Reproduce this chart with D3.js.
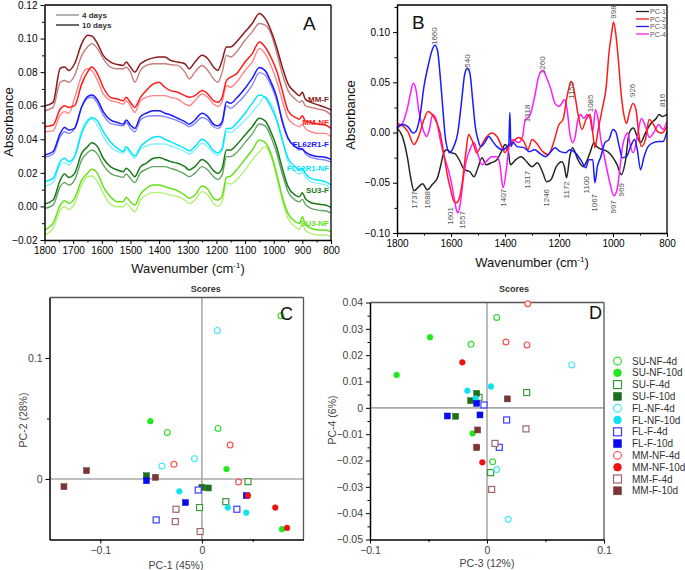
<!DOCTYPE html>
<html><head><meta charset="utf-8">
<script src="https://cdn.jsdelivr.net/npm/d3@7"></script>
<style>
body{margin:0;background:#fff}
svg{display:block}
text{font-family:"Liberation Sans",Arial,Helvetica,sans-serif}
</style></head>
<body><svg id="chart" width="685" height="570"></svg>
<script>
// ---------------- Panel A data ----------------
const wnA = [1800,1770,1745,1730,1715,1695,1670,1650,1635,1615,1595,1570,1545,1525,1515,1500,1485,1465,1445,1420,1400,1380,1360,1335,1310,1295,1275,1250,1230,1210,1195,1180,1165,1150,1130,1100,1075,1050,1030,1010,990,970,950,925,910,900,890,870,845,820,800];
const mmF10 = [0.0598,0.062,0.0823,0.083,0.081,0.085,0.097,0.102,0.1015,0.097,0.090,0.086,0.0845,0.084,0.086,0.083,0.080,0.085,0.087,0.0885,0.089,0.089,0.087,0.086,0.085,0.082,0.086,0.090,0.088,0.083,0.081,0.087,0.095,0.095,0.098,0.104,0.109,0.115,0.112,0.105,0.095,0.083,0.073,0.068,0.066,0.068,0.064,0.062,0.0605,0.059,0.0575];
const mmF4 = [0.057,0.059,0.074,0.075,0.074,0.078,0.090,0.095,0.097,0.094,0.088,0.083,0.082,0.082,0.083,0.080,0.074,0.081,0.084,0.085,0.085,0.085,0.0845,0.084,0.080,0.076,0.080,0.084,0.081,0.076,0.074,0.080,0.090,0.089,0.092,0.099,0.104,0.109,0.108,0.103,0.092,0.079,0.069,0.064,0.062,0.063,0.060,0.059,0.058,0.057,0.0545];
const mmNF10 = [0.0475,0.0485,0.058,0.060,0.059,0.060,0.073,0.080,0.083,0.079,0.071,0.065,0.064,0.063,0.065,0.062,0.059,0.065,0.069,0.073,0.074,0.071,0.069,0.068,0.066,0.065,0.066,0.069,0.067,0.063,0.062,0.065,0.075,0.077,0.079,0.086,0.091,0.098,0.095,0.089,0.081,0.069,0.057,0.053,0.052,0.054,0.051,0.050,0.049,0.0485,0.0465];
const mmNF4 = [0.0445,0.045,0.0545,0.0565,0.0555,0.0645,0.078,0.082,0.081,0.075,0.067,0.063,0.062,0.061,0.063,0.060,0.056,0.063,0.065,0.066,0.066,0.066,0.065,0.064,0.061,0.060,0.063,0.067,0.065,0.061,0.0595,0.0625,0.072,0.071,0.074,0.081,0.086,0.094,0.091,0.084,0.075,0.063,0.0525,0.0485,0.0475,0.049,0.0465,0.0445,0.0435,0.0435,0.0415];
const flF10 = [0.0306,0.0327,0.0435,0.047,0.0455,0.0465,0.0594,0.0654,0.0664,0.0634,0.0565,0.0515,0.050,0.049,0.0515,0.0485,0.0465,0.0535,0.0555,0.057,0.057,0.0555,0.0545,0.0525,0.0505,0.049,0.0515,0.0555,0.0535,0.049,0.048,0.0505,0.0624,0.0614,0.0644,0.0704,0.0763,0.0827,0.0809,0.0743,0.0654,0.0505,0.0405,0.0356,0.0345,0.034,0.0325,0.0306,0.0297,0.0293,0.028];
const flF4 = [0.0293,0.0312,0.0416,0.0445,0.0435,0.0465,0.0594,0.0644,0.065,0.0614,0.0545,0.0495,0.0485,0.048,0.050,0.0465,0.0445,0.0515,0.0535,0.054,0.054,0.0535,0.0525,0.051,0.049,0.0475,0.0495,0.053,0.0515,0.0475,0.0465,0.049,0.060,0.0584,0.061,0.0664,0.0723,0.0797,0.0783,0.0723,0.0634,0.0515,0.041,0.0356,0.0336,0.0346,0.0316,0.0292,0.0282,0.0276,0.0265];
const flNF10 = [0.0148,0.0167,0.0267,0.0287,0.0267,0.0297,0.0436,0.0505,0.053,0.051,0.0445,0.0386,0.0346,0.0327,0.0356,0.0327,0.030,0.0356,0.0386,0.0412,0.0416,0.040,0.0386,0.0366,0.0346,0.0332,0.0356,0.040,0.0376,0.0332,0.032,0.0346,0.0465,0.0465,0.0495,0.0555,0.0614,0.0664,0.065,0.0594,0.0515,0.0396,0.0287,0.0237,0.0217,0.0227,0.0197,0.0167,0.0157,0.0148,0.0128];
const flNF4 = [0.0118,0.0142,0.0247,0.0261,0.0247,0.0297,0.0455,0.0515,0.0519,0.0485,0.0416,0.0356,0.0327,0.0317,0.034,0.0312,0.0287,0.034,0.036,0.0372,0.0372,0.0372,0.036,0.0346,0.0327,0.0312,0.0336,0.0376,0.0356,0.0317,0.0306,0.0332,0.0445,0.044,0.0465,0.0515,0.0559,0.0614,0.0654,0.0614,0.0525,0.0396,0.0267,0.0207,0.0193,0.0207,0.0177,0.0148,0.0138,0.0128,0.0108];
const suF10 = [0.0014,0.0038,0.0157,0.0193,0.0173,0.0197,0.0317,0.0356,0.038,0.0356,0.0287,0.0237,0.0217,0.0207,0.0227,0.0207,0.0177,0.0237,0.0257,0.0287,0.0292,0.028,0.0267,0.0257,0.0237,0.0217,0.0237,0.028,0.0257,0.0213,0.0197,0.0227,0.0336,0.0336,0.0366,0.0426,0.0475,0.0525,0.051,0.0445,0.0356,0.0227,0.0118,0.0068,0.0058,0.0081,0.0048,0.0022,0.0014,0.0008,-0.0006];
const suF4 = [-0.0012,0.0008,0.0118,0.0142,0.0128,0.0157,0.0277,0.032,0.0336,0.0312,0.0247,0.0197,0.0181,0.0173,0.0193,0.0167,0.0142,0.0201,0.0221,0.0237,0.0237,0.0237,0.0227,0.0213,0.0193,0.0177,0.0197,0.0237,0.0217,0.0177,0.0161,0.0187,0.0297,0.0297,0.032,0.038,0.0432,0.0491,0.048,0.0416,0.032,0.0193,0.0088,0.0038,0.0028,0.0042,0.0014,-0.0012,-0.0022,-0.0026,-0.0038];
const suNF10 = [-0.014,-0.010,0.0008,0.0034,0.0018,0.0048,0.0157,0.0197,0.0221,0.0197,0.0118,0.0058,0.0028,0.0028,0.0054,0.0028,0.0008,0.0073,0.0108,0.0128,0.0128,0.0118,0.0108,0.0093,0.0068,0.0048,0.0068,0.0121,0.0102,0.0048,0.0038,0.0062,0.0173,0.0181,0.0217,0.0281,0.0336,0.0396,0.038,0.0316,0.0197,0.0058,-0.0041,-0.0091,-0.0101,-0.0061,-0.0105,-0.013,-0.014,-0.014,-0.015];
const suNF4 = [-0.017,-0.013,-0.0022,-0.0002,-0.0018,0.0018,0.0128,0.0177,0.0181,0.0148,0.0078,0.0014,-0.0002,-0.0002,0.0018,-0.0006,-0.0032,0.0038,0.0068,0.0082,0.0082,0.0078,0.0068,0.0058,0.0038,0.0018,0.0038,0.0088,0.0068,0.0018,0.0002,0.0028,0.0142,0.0134,0.0157,0.0217,0.0277,0.0326,0.0356,0.030,0.0177,0.0038,-0.0071,-0.012,-0.0136,-0.0105,-0.014,-0.016,-0.017,-0.017,-0.018];
const spectraNames = ["MM-F","MM-NF","FL62R1-F","FL62R1-NF","SU3-F","SU3-NF"];
const spectraLabelY = [0.0622,0.0485,0.0354,0.0211,0.0080,-0.0117];

// ---------------- Panel B data ----------------
const pc1Wn = [1800,1780,1760,1750,1737,1720,1705,1688,1670,1650,1640,1625,1615,1600,1585,1570,1550,1530,1515,1500,1485,1470,1450,1430,1410,1400,1390,1380,1360,1340,1320,1300,1280,1260,1246,1230,1210,1190,1180,1172,1160,1150,1130,1110,1100,1085,1070,1060,1040,1020,1000,985,969,955,940,925,910,898,880,860,840,830,816,800];
const pc1Val = [0.0045,-0.004,-0.027,-0.044,-0.058,-0.054,-0.051,-0.057,-0.052,-0.045,-0.035,-0.019,-0.017,-0.020,-0.021,-0.027,-0.037,-0.039,-0.044,-0.035,-0.025,-0.032,-0.030,-0.027,-0.017,-0.012,-0.015,-0.032,-0.027,-0.024,-0.029,-0.034,-0.030,-0.040,-0.049,-0.047,-0.034,-0.029,-0.034,-0.045,-0.024,-0.015,-0.027,-0.034,-0.030,-0.020,-0.010,-0.014,-0.017,-0.019,-0.025,-0.032,-0.042,-0.030,-0.0005,0.0045,-0.004,-0.010,-0.0005,0.009,0.014,0.018,0.016,0.018];
const pc2Wn = [1800,1780,1760,1737,1720,1700,1685,1670,1655,1640,1625,1610,1601,1590,1580,1570,1560,1545,1535,1520,1505,1490,1470,1450,1430,1410,1400,1390,1370,1350,1330,1315,1300,1285,1260,1240,1220,1200,1185,1170,1155,1145,1130,1115,1100,1085,1075,1067,1055,1040,1025,1015,1005,998,990,980,970,960,950,940,926,915,905,895,880,866,850,835,820,800];
const pc2Val = [0.009,0.007,0.001,-0.012,-0.004,0.013,0.021,0.018,0.011,-0.0005,-0.024,-0.047,-0.057,-0.068,-0.070,-0.066,-0.053,-0.020,-0.002,-0.009,-0.020,-0.014,-0.005,-0.0005,-0.004,-0.015,-0.020,-0.015,-0.009,-0.005,-0.009,-0.017,-0.007,-0.010,-0.019,-0.022,-0.010,0.008,0.013,0.036,0.051,0.043,0.019,0.003,0.013,0.018,-0.0005,-0.015,0.003,0.023,0.046,0.079,0.099,0.110,0.099,0.072,0.039,0.018,0.009,0.019,0.029,0.023,-0.0005,-0.014,-0.007,0.013,0.008,0.001,-0.0005,0.006];
const pc3Wn = [1800,1780,1760,1740,1730,1715,1700,1685,1670,1660,1650,1640,1630,1620,1605,1590,1575,1560,1550,1540,1530,1520,1510,1500,1490,1475,1460,1445,1430,1410,1395,1386,1382,1378,1370,1355,1330,1310,1290,1270,1250,1230,1215,1195,1175,1160,1140,1120,1100,1090,1075,1067,1058,1045,1030,1015,1000,990,980,965,950,935,920,910,898,885,870,850,830,815,800];
const pc3Val = [0.0045,0.008,0.006,-0.0005,0.001,0.016,0.046,0.066,0.082,0.087,0.082,0.056,0.023,-0.007,-0.020,-0.014,-0.0005,0.033,0.057,0.064,0.059,0.033,0.006,-0.007,-0.014,-0.010,-0.004,-0.009,-0.014,-0.017,-0.015,-0.012,0.020,-0.014,-0.010,-0.014,-0.015,-0.019,-0.017,-0.021,-0.024,-0.019,-0.015,-0.019,-0.020,-0.017,-0.020,-0.027,-0.035,-0.027,-0.027,-0.050,-0.034,-0.024,-0.010,-0.007,0.003,0.001,-0.010,-0.025,-0.024,-0.014,-0.007,-0.017,-0.037,-0.024,-0.014,-0.010,-0.009,-0.009,0.001];
const pc4Wn = [1800,1780,1760,1750,1740,1730,1720,1705,1690,1680,1668,1655,1640,1625,1610,1600,1590,1580,1575,1565,1555,1545,1530,1515,1500,1485,1470,1450,1430,1420,1407,1395,1385,1370,1350,1335,1325,1318,1305,1290,1275,1260,1245,1230,1215,1200,1190,1180,1170,1160,1150,1140,1130,1120,1108,1095,1085,1075,1065,1055,1045,1035,1020,1010,997,985,975,965,955,945,935,925,910,895,880,865,850,830,815,800];
const pc4Val = [0.005,0.009,0.026,0.039,0.049,0.043,0.023,0.0045,-0.004,0.003,0.018,0.013,-0.007,-0.024,-0.037,-0.048,-0.063,-0.077,-0.080,-0.070,-0.047,-0.030,-0.017,-0.010,-0.022,-0.032,-0.029,-0.024,-0.024,-0.030,-0.055,-0.037,-0.014,-0.007,-0.010,-0.004,0.013,0.014,0.019,0.036,0.056,0.062,0.054,0.043,0.029,0.026,0.029,0.033,0.023,-0.0005,-0.010,-0.004,0.013,0.018,0.014,0.018,0.014,0.001,0.023,0.013,-0.007,-0.020,-0.040,-0.052,-0.063,-0.057,-0.037,-0.014,-0.004,-0.0005,-0.014,-0.020,-0.004,0.014,0.006,-0.005,-0.0005,0.008,0.003,0.011];
const pcNames = ["PC-1","PC-2","PC-3","PC-4"];
const peakLabels = ["1660","1540","1260","1155","1085","1318","998","926","816","1737","1688","1601","1557","1407","1317","1246","1172","1100","1067","997","969"];
const peakLabelY = [0.096,0.069,0.067,0.042,0.029,0.019,0.120,0.042,0.032,-0.067,-0.067,-0.083,-0.087,-0.065,-0.047,-0.065,-0.057,-0.052,-0.070,-0.074,-0.057];

// ---------------- Panels C, D data (3 samples per group) ----------------
const groups = ["SU-NF-4d","SU-NF-10d","SU-F-4d","SU-F-10d","FL-NF-4d","FL-NF-10d","FL-F-4d","FL-F-10d","MM-NF-4d","MM-NF-10d","MM-F-4d","MM-F-10d"];
const pc1Scores = [0.0778,-0.0341,0.0159, -0.0507,0.0242,0.0788, 0.0454,0.0235,-0.0023, -0.0546,0.0,0.0063, 0.0152,-0.0394,-0.0073, -0.0222,0.0255,0.0437, -0.0036,0.0344,-0.045, -0.0546,-0.0162,0.0437, 0.0278,-0.0275,0.0361, 0.0454,0.0722,0.0838, -0.0255,-0.0262,-0.0017, -0.1136,-0.1358,-0.0457];
const pc2Scores = [0.135,0.0385,0.0418, 0.0478,0.0082,-0.0415, -0.0022,-0.0187,-0.0236, 0.0027,-0.0069,-0.0074, 0.1228,0.0107,0.0168, -0.0102,-0.0236,-0.0278, -0.0091,-0.025,-0.0338, -0.0014,-0.0195,-0.0137, 0.028,0.0121,-0.0025, -0.0137,-0.0236,-0.0404, -0.025,-0.0352,-0.0434, 0.0069,-0.0063,0.0014];
const pc3Scores = [0.0083,-0.0137,0.0048, -0.0487,-0.0772,-0.0123, 0.0339,0.0031,-0.0068, -0.0088,-0.014,-0.0268, 0.0724,0.0083,0.0182, -0.0168,0.0034,-0.0097, -0.0026,0.0168,0.0105, -0.0339,-0.006,-0.0088, 0.0348,0.0162,0.0342, -0.0211,-0.0088,-0.004, 0.0068,0.0333,0.004, 0.0174,-0.008,-0.0088];
const pc4Scores = [0.0343,0.0241,-0.0205, 0.0268,0.0125,-0.0097, 0.0058,-0.0246,0.004, 0.0055,0.0027,-0.0032, 0.0163,-0.0234,-0.0423, 0.0065,0.0081,0.0036, 0.0011,-0.0046,-0.015, -0.0031,-0.0027,0.0017, 0.0395,0.025,0.0239, 0.0173,-0.0148,-0.0207, -0.0135,-0.008,-0.031, 0.0034,-0.0084,-0.0151];

// ---------------- styles ----------------
const spectraColors10 = ["#8b1a1a","#ff1a1a","#1a1aff","#00e5ff","#1a7a1a","#66e01a"];
const spectraColors4 = ["#c47f7f","#ff8585","#8585ff","#85f2ff","#62a562","#b4f078"];
const pcColors = ["#262626","#ff1a1a","#1a1aff","#ff1aff"];
const grpColor = ["#33dd33","#1ee81e","#3a9a3a","#1c6e1c","#48e8f8","#10e0f0","#3b3bff","#0a0aee","#ff5050","#ee1111","#a06666","#7a3535"];
const grpShape = ["c","c","s","s","c","c","s","s","c","c","s","s"];
const grpFilled = [false,true,false,true,false,true,false,true,false,true,false,true];

const svg = d3.select("#chart");
const FONT = "Liberation Sans, Arial, sans-serif";

function frame(x0,x1,y0,y1,topCol){
  svg.append("line").attr("x1",x0).attr("x2",x1).attr("y1",y0).attr("y2",y0).attr("stroke",topCol).attr("stroke-width",1.3);
  svg.append("line").attr("x1",x1).attr("x2",x1).attr("y1",y0).attr("y2",y1).attr("stroke",topCol).attr("stroke-width",1.3);
}
function styleAxis(g,col,size){
  g.selectAll("path").attr("stroke","#000").attr("stroke-width",1.5);
  g.selectAll("line").attr("stroke","#000");
  g.selectAll("text").attr("fill",col).style("font-size",size+"px").style("font-family",FONT);
}
function minorTicks(axisGen, scale, vals, tr){
  const g = svg.append("g").attr("transform",tr).call(axisGen(scale).tickValues(vals).tickSize(2.5).tickFormat("").tickSizeOuter(0));
  g.select("path").remove();
  g.selectAll("line").attr("stroke","#000");
}

// ================= Panel A =================
const xA = d3.scaleLinear().domain([1800,800]).range([44.5,331]);
const yA = d3.scaleLinear().domain([-0.02,0.12]).range([240,5]);
const lineA = d3.line().x((d,i)=>xA(wnA[i])).y(d=>yA(d)).curve(d3.curveMonotoneX);
const series10 = [mmF10,mmNF10,flF10,flNF10,suF10,suNF10];
const series4 = [mmF4,mmNF4,flF4,flNF4,suF4,suNF4];
series4.forEach((s,k)=>svg.append("path").attr("d",lineA(s)).attr("fill","none").attr("stroke",spectraColors4[k]).attr("stroke-width",1.4));
series10.forEach((s,k)=>svg.append("path").attr("d",lineA(s)).attr("fill","none").attr("stroke",spectraColors10[k]).attr("stroke-width",1.5));
spectraNames.forEach((n,k)=>svg.append("text").attr("x",329).attr("y",yA(spectraLabelY[k])).attr("text-anchor","end")
  .attr("fill",spectraColors10[k]).style("font-size","8px").style("font-weight","bold").text(n));
frame(44.5,331,5,240,"#000");
let gA = svg.append("g").attr("transform","translate(0,240)").call(d3.axisBottom(xA).tickValues(d3.range(1800,799,-100)).tickFormat(d3.format("d")).tickSize(4).tickSizeOuter(0));
styleAxis(gA,"#000",10);
minorTicks(d3.axisBottom,xA,d3.range(1750,800,-100),"translate(0,240)");
let gAy = svg.append("g").attr("transform","translate(44.5,0)").call(d3.axisLeft(yA).tickValues([-0.02,0,0.02,0.04,0.06,0.08,0.10,0.12]).tickFormat(d3.format(".2f")).tickSize(4).tickSizeOuter(0));
styleAxis(gAy,"#000",10);
minorTicks(d3.axisLeft,yA,[-0.01,0.01,0.03,0.05,0.07,0.09,0.11],"translate(44.5,0)");
svg.append("text").attr("transform","translate(13,122) rotate(-90)").attr("text-anchor","middle").style("font-size","13px").attr("fill","#111").text("Absorbance");
svg.append("text").attr("x",188).attr("y",273).attr("text-anchor","middle").style("font-size","13px").attr("fill","#111")
  .html('Wavenumber (cm<tspan dy="-5" font-size="8">-1</tspan><tspan dy="5">)</tspan>');
svg.append("text").attr("x",303).attr("y",30).style("font-size","19px").attr("fill","#111").text("A");
[["4 days","#9a9a9a",15],["10 days","#3a3a3a",25]].forEach(r=>{
  svg.append("line").attr("x1",56).attr("x2",79).attr("y1",r[2]).attr("y2",r[2]).attr("stroke",r[1]).attr("stroke-width",1.5);
  svg.append("text").attr("x",82).attr("y",r[2]+3).style("font-size","8px").style("font-weight","bold").attr("fill","#333").text(r[0]);
});

// ================= Panel B =================
const xB = d3.scaleLinear().domain([1800,800]).range([397,667]);
const yB = d3.scaleLinear().domain([-0.1,0.127]).range([233,5]);
const pcs = [[pc1Wn,pc1Val],[pc2Wn,pc2Val],[pc3Wn,pc3Val],[pc4Wn,pc4Val]];
const drawOrder = [0,3,1,2];
drawOrder.forEach(k=>{
  const [w,v] = pcs[k];
  const ln = d3.line().x((d,i)=>xB(w[i])).y(d=>yB(d)).curve(d3.curveMonotoneX);
  svg.append("path").attr("d",ln(v)).attr("fill","none").attr("stroke",pcColors[k]).attr("stroke-width",1.5);
});
frame(397,667,5,233,"#000");
let gB = svg.append("g").attr("transform","translate(0,233)").call(d3.axisBottom(xB).tickValues([1800,1600,1400,1200,1000,800]).tickFormat(d3.format("d")).tickSize(4).tickSizeOuter(0));
styleAxis(gB,"#000",10);
minorTicks(d3.axisBottom,xB,[1700,1500,1300,1100,900],"translate(0,233)");
let gBy = svg.append("g").attr("transform","translate(397,0)").call(d3.axisLeft(yB).tickValues([-0.10,-0.05,0,0.05,0.10]).tickFormat(d3.format(".2f")).tickSize(4).tickSizeOuter(0));
styleAxis(gBy,"#000",10);
minorTicks(d3.axisLeft,yB,[-0.075,-0.025,0.025,0.075,0.125],"translate(397,0)");
svg.append("text").attr("transform","translate(355,115) rotate(-90)").attr("text-anchor","middle").style("font-size","13px").attr("fill","#111").text("Absorbance");
svg.append("text").attr("x",532).attr("y",267).attr("text-anchor","middle").style("font-size","13px").attr("fill","#111")
  .html('Wavenumber (cm<tspan dy="-5" font-size="8">-1</tspan><tspan dy="5">)</tspan>');
svg.append("text").attr("x",412).attr("y",29).style("font-size","19px").attr("fill","#111").text("B");
peakLabels.forEach((t,i)=>{
  svg.append("text").attr("transform",`translate(${xB(+t)+2.5},${yB(peakLabelY[i])}) rotate(-90)`).attr("text-anchor","middle")
    .style("font-size","8px").attr("fill","#555").text(t);
});
pcNames.forEach((n,k)=>{
  const y = 11.5+k*7.5;
  svg.append("line").attr("x1",636).attr("x2",649).attr("y1",y).attr("y2",y).attr("stroke",pcColors[k]).attr("stroke-width",1.3);
  svg.append("text").attr("x",650).attr("y",y+2.5).style("font-size","7px").attr("fill","#555").text(n);
});

// ================= Scores helper =================
function marker(g,x,y,k,sz){
  const col = grpColor[k];
  if(grpShape[k]==="c"){
    g.append("circle").attr("cx",x).attr("cy",y).attr("r",sz/2-0.6)
      .attr("fill",grpFilled[k]?col:"#fff").attr("stroke",col).attr("stroke-width",grpFilled[k]?0.5:1.2);
  } else {
    const s = sz-1;
    g.append("rect").attr("x",x-s/2).attr("y",y-s/2).attr("width",s).attr("height",s)
      .attr("fill",grpFilled[k]?col:"#fff").attr("stroke",col).attr("stroke-width",grpFilled[k]?0.5:1.2);
  }
}
function scoresPanel(xs,ys,x0,x1,y0,y1,xv,yv,label,lx,ly){
  svg.append("line").attr("x1",xs(0)).attr("x2",xs(0)).attr("y1",y0).attr("y2",y1).attr("stroke","#aaa").attr("stroke-width",1.6);
  svg.append("line").attr("x1",x0).attr("x2",x1).attr("y1",ys(0)).attr("y2",ys(0)).attr("stroke","#aaa").attr("stroke-width",1.6);
  frame(x0,x1,y0,y1,"#555");
  const g = svg.append("g");
  xv.forEach((v,i)=>marker(g,xs(v),ys(yv[i]),Math.floor(i/3),7));
  svg.append("text").attr("x",x0+0.615*(x1-x0)).attr("y",292).attr("text-anchor","middle").style("font-size","9px").style("font-weight","bold").attr("fill","#333").text("Scores");
  svg.append("text").attr("x",lx).attr("y",ly).style("font-size","18px").attr("fill","#111").text(label);
}

// ================= Panel C =================
const xC = d3.scaleLinear().domain([-0.15,0.10]).range([49.5,303.5]);
const yC = d3.scaleLinear().domain([-0.05,0.15]).range([539.5,297.5]);
scoresPanel(xC,yC,49.5,303.5,297.5,539.5,pc1Scores,pc2Scores,"C",280,320);
let gC = svg.append("g").attr("transform","translate(0,539.5)").call(d3.axisBottom(xC).tickValues([-0.1,0]).tickFormat(d=>d===0?"0":d3.format(".1f")(d)).tickSize(4).tickSizeOuter(0));
styleAxis(gC,"#444",10.5);
minorTicks(d3.axisBottom,xC,[0.05],"translate(0,539.5)");
let gCy = svg.append("g").attr("transform","translate(49.5,0)").call(d3.axisLeft(yC).tickValues([0,0.1]).tickFormat(d=>d===0?"0":d3.format(".1f")(d)).tickSize(4).tickSizeOuter(0));
styleAxis(gCy,"#444",10.5);
minorTicks(d3.axisLeft,yC,[0.05],"translate(49.5,0)");
svg.append("text").attr("x",176).attr("y",569).attr("text-anchor","middle").style("font-size","10.5px").attr("fill","#444").text("PC-1 (45%)");
svg.append("text").attr("transform","translate(27,420) rotate(-90)").attr("text-anchor","middle").style("font-size","10.5px").attr("fill","#444").text("PC-2 (28%)");

// ================= Panel D =================
const xD = d3.scaleLinear().domain([-0.1,0.1]).range([370,604]);
const yD = d3.scaleLinear().domain([-0.05,0.04]).range([539.5,302.5]);
scoresPanel(xD,yD,370,604,302.5,539.5,pc3Scores,pc4Scores,"D",589,319);
let gD = svg.append("g").attr("transform","translate(0,539.5)").call(d3.axisBottom(xD).tickValues([-0.1,0,0.1]).tickFormat(d=>d===0?"0":d3.format(".1f")(d)).tickSize(4).tickSizeOuter(0));
styleAxis(gD,"#444",10.5);
minorTicks(d3.axisBottom,xD,[-0.05,0.05],"translate(0,539.5)");
let gDy = svg.append("g").attr("transform","translate(370,0)").call(d3.axisLeft(yD).tickValues(d3.range(-0.05,0.0401,0.01)).tickFormat(d=>Math.abs(d)<1e-9?"0":d3.format(".2f")(d)).tickSize(4).tickSizeOuter(0));
styleAxis(gDy,"#444",10.5);
minorTicks(d3.axisLeft,yD,d3.range(-0.045,0.04,0.01),"translate(370,0)");
svg.append("text").attr("x",487).attr("y",567).attr("text-anchor","middle").style("font-size","10.5px").attr("fill","#444").text("PC-3 (12%)");
svg.append("text").attr("transform","translate(336,420) rotate(-90)").attr("text-anchor","middle").style("font-size","10.5px").attr("fill","#444").text("PC-4 (6%)");

// legend D
const lg = svg.append("g");
groups.forEach((n,k)=>{
  const y = 361 + k*11.8;
  marker(lg,617.5,y,k,9);
  lg.append("text").attr("x",632).attr("y",y+3.6).style("font-size","10px").attr("fill","#333").text(n);
});
</script></body></html>
